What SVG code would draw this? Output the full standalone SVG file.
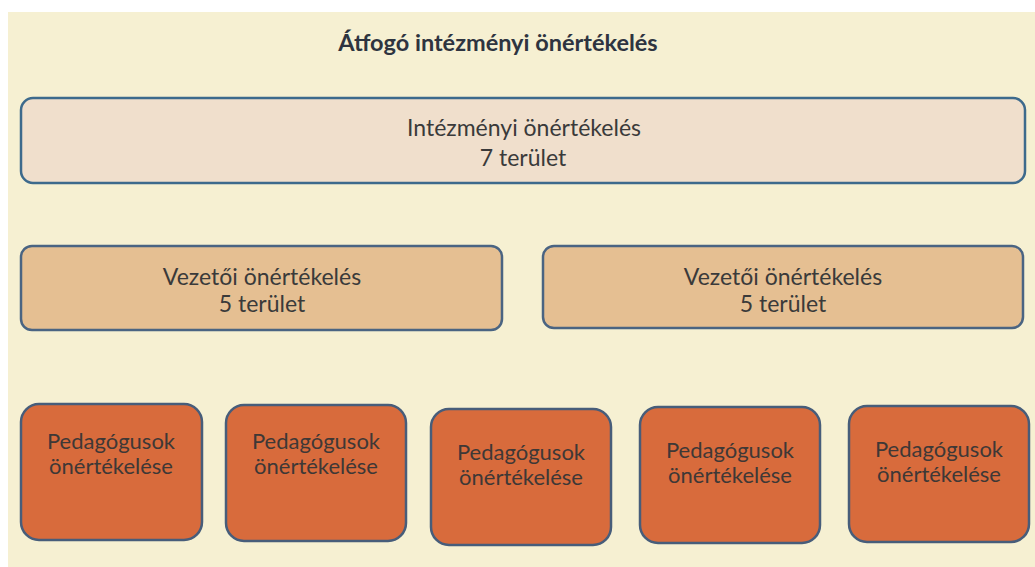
<svg xmlns="http://www.w3.org/2000/svg" width="1035" height="567" viewBox="0 0 1035 567">
<style>
.bg{fill:#f6f0d2}
.top{fill:#f0dfcc;stroke:#3d6a8c;stroke-width:2.5}
.mid{fill:#e5bf92;stroke:#4a6482;stroke-width:2.5}
.bot{fill:#d86b3c;stroke:#475d7a;stroke-width:2.5}
text{font-family:Lato,"Open Sans","Liberation Sans",sans-serif;font-size:23px;fill:#3a3a3a;text-anchor:middle}
.title{font-weight:bold;fill:#2e3440;font-size:23.5px}
.p{font-size:22px;fill:#3e3836}
</style>
<rect x="0" y="0" width="1035" height="567" fill="#ffffff"/>
<rect class="bg" x="8" y="12" width="1027" height="555"/>
<text class="title" x="498" y="51">Átfogó intézményi önértékelés</text>
<g id="intezmenyi">
<rect class="top" x="21" y="98" width="1004" height="85" rx="12"/>
<text x="524" y="136">Intézményi önértékelés</text>
<text x="523" y="166">7 terület</text>
</g>
<g id="vezetoi1">
<rect class="mid" x="21" y="246" width="481" height="84" rx="11"/>
<text x="262" y="285">Vezetői önértékelés</text>
<text x="262" y="312">5 terület</text>
</g>
<g id="vezetoi2">
<rect class="mid" x="543" y="246" width="480" height="82" rx="11"/>
<text x="783" y="285">Vezetői önértékelés</text>
<text x="783" y="312">5 terület</text>
</g>
<g id="ped1">
<rect class="bot" x="21" y="404" width="181" height="136" rx="18"/>
<text class="p" x="111" y="449">Pedagógusok</text>
<text class="p" x="111" y="474">önértékelése</text>
</g>
<g id="ped2">
<rect class="bot" x="226" y="405" width="180" height="136" rx="18"/>
<text class="p" x="316" y="449">Pedagógusok</text>
<text class="p" x="316" y="474">önértékelése</text>
</g>
<g id="ped3">
<rect class="bot" x="431" y="409" width="180" height="136" rx="18"/>
<text class="p" x="521" y="460">Pedagógusok</text>
<text class="p" x="521" y="485">önértékelése</text>
</g>
<g id="ped4">
<rect class="bot" x="640" y="407" width="180" height="136" rx="18"/>
<text class="p" x="730" y="458">Pedagógusok</text>
<text class="p" x="730" y="483">önértékelése</text>
</g>
<g id="ped5">
<rect class="bot" x="849" y="406" width="180" height="136" rx="18"/>
<text class="p" x="939" y="457">Pedagógusok</text>
<text class="p" x="939" y="482">önértékelése</text>
</g>
<g id="connectors"></g>
</svg>
